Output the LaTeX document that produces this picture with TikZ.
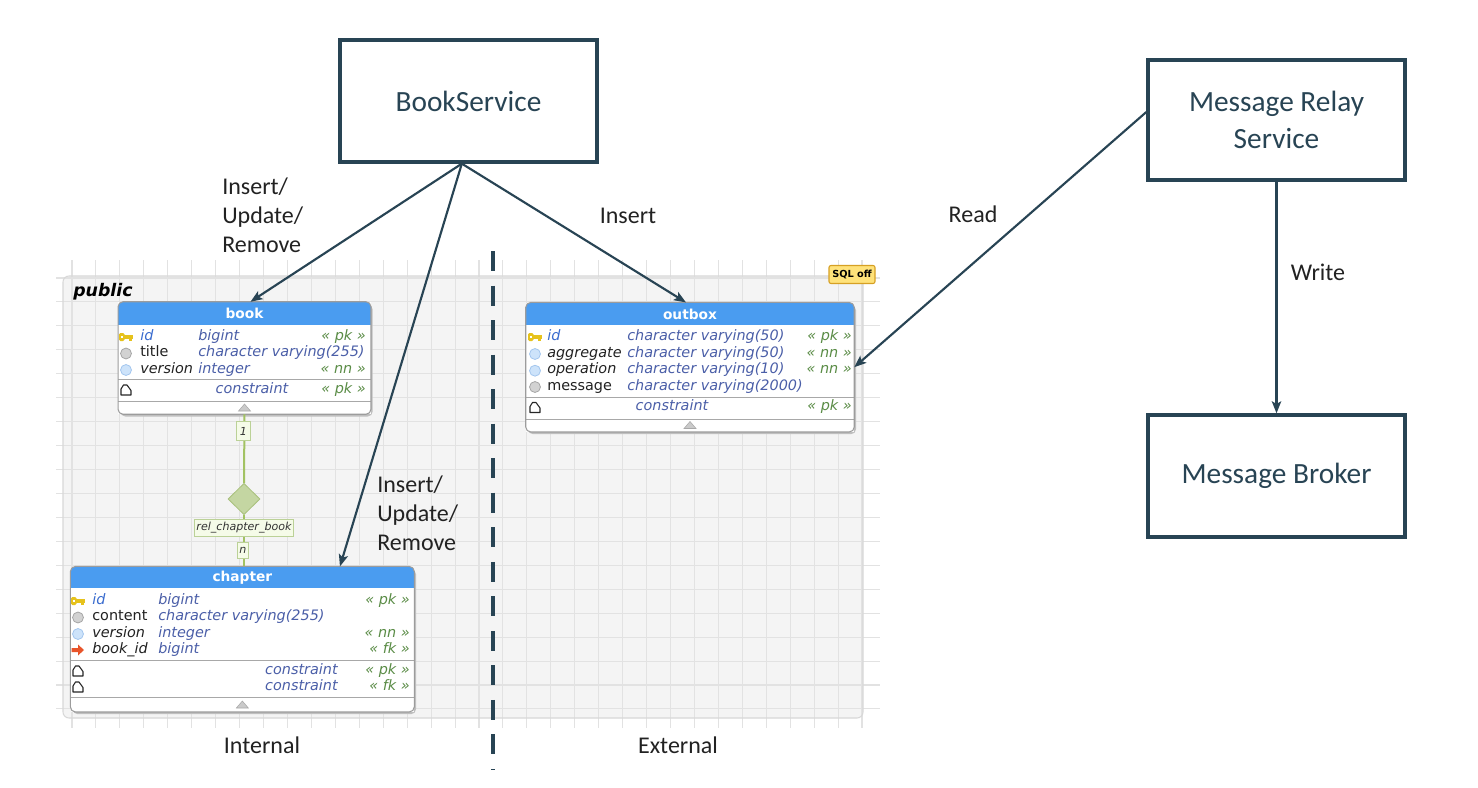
\documentclass[tikz,border=0pt]{standalone}
\usepackage{fontspec}
\setmainfont{Carlito}
\newfontfamily\tblfont{DejaVu Sans}
\usetikzlibrary{arrows.meta,shapes.geometric,calc}
\definecolor{slate}{HTML}{284454}
\definecolor{lblc}{HTML}{222222}
\definecolor{panelc}{HTML}{F4F4F4}
\definecolor{panelb}{HTML}{D8D8D8}
\definecolor{gridc}{HTML}{E2E2E2}
\definecolor{hdrc}{HTML}{4A9CF0}
\definecolor{tbb}{HTML}{9C9C9C}
\definecolor{sepc}{HTML}{A8A8A8}
\definecolor{nmcol}{HTML}{222222}
\definecolor{idcol}{HTML}{3A6CCF}
\definecolor{tycol}{HTML}{4B5FA8}
\definecolor{ancol}{HTML}{5A8C46}
\definecolor{keyc}{HTML}{E6C21C}
\definecolor{grayic}{HTML}{D2D2D2}
\definecolor{grayicb}{HTML}{A6A6A6}
\definecolor{blueic}{HTML}{CDE3FA}
\definecolor{blueicb}{HTML}{A3C6EE}
\definecolor{fkc}{HTML}{E8542A}
\definecolor{tric}{HTML}{CACACA}
\definecolor{relc}{HTML}{A2C262}
\definecolor{diaf}{HTML}{C4D6A2}
\definecolor{diab}{HTML}{A9C07C}
\definecolor{rlf}{HTML}{F5FBE8}
\definecolor{rlb}{HTML}{BBD197}
\definecolor{sqlf}{HTML}{FFE27A}
\definecolor{sqlb}{HTML}{D6A024}
\newcommand\tf{\tblfont\fontsize{10.8}{13}\selectfont}
\newcommand\mykey[2]{%
  \fill[keyc, rounded corners=1pt] (#1-7,#2-4) rectangle (#1-1.5,#2+4);
  \fill[white] (#1-5.2,#2-1.3) rectangle (#1-3.3,#2+1.3);
  \fill[keyc] (#1-2,#2-1.6) rectangle (#1+6.5,#2+1.6);
  \fill[keyc] (#1+3,#2+1) rectangle (#1+6,#2+4);}
\newcommand\mygray[2]{\draw[fill=grayic,draw=grayicb,line width=0.6pt] (#1,#2) circle[radius=4.1pt];}
\newcommand\myblue[2]{\draw[fill=blueic,draw=blueicb,line width=0.6pt] (#1,#2) circle[radius=4.1pt];}
\newcommand\myfk[2]{\fill[fkc] (#1-6.5,#2-2) -- (#1,#2-2) -- (#1,#2-5.5) -- (#1+6,#2) -- (#1,#2+5.5) -- (#1,#2+2) -- (#1-6.5,#2+2) -- cycle;}
\newcommand\mycons[2]{\draw[black!85,line width=0.8pt,line join=round] (#1-5,#2+5) -- (#1+5,#2+5) -- (#1+5,#2+0.5) -- (#1+1,#2-5) -- (#1-2.5,#2-5) -- (#1-5,#2-1) -- cycle;}
\newcommand\mytri[2]{\draw[fill=tric,draw=sepc,line width=0.4pt] (#1-6,#2+3.5) -- (#1+6,#2+3.5) -- (#1,#2-3.5) -- cycle;}
\tikzset{
  svc/.style={draw=slate, line width=2.5pt, fill=white, inner sep=0pt, text=slate,
    font=\fontsize{22}{27.75}\selectfont, align=center},
  conn/.style={draw=slate, line width=1.6pt, -{Stealth[length=9pt,width=7pt,inset=2pt]}},
  lbl/.style={inner sep=0pt, text=lblc, font=\fontsize{18}{21.75}\selectfont},
  tblnode/.style={fill=white, inner sep=0pt},
  hdrtxt/.style={inner sep=0pt, text=white, font=\tblfont\fontsize{10.3}{12}\selectfont\bfseries},
  tb/.style={inner sep=0pt, font=\tf},
  nm/.style={tb, anchor=mid west, text=nmcol},
  nmi/.style={tb, anchor=mid west, text=nmcol, font=\tf\itshape},
  nmk/.style={nmi, text=idcol},
  ty/.style={nmi, text=tycol},
  an/.style={tb, anchor=mid east, text=ancol, font=\tf\itshape},
  ct/.style={tb, anchor=mid, text=tycol, font=\tf\itshape},
  sepl/.style={draw=sepc, line width=0.6pt},
  shad/.style={fill=black!25, rounded corners=3.75pt},
  rellbl/.style={fill=rlf, draw=rlb, line width=0.5pt, inner sep=1.5pt, text=black!80,
    font=\tblfont\fontsize{8.3}{10}\selectfont\itshape},
  dashln/.style={draw=slate, line width=3pt, dash pattern=on 15pt off 10.9pt}
}
\begin{document}
\begin{tikzpicture}[x=0.75pt,y=-0.75pt]
\useasboundingbox (0,0) rectangle (1478,788);
\fill[white] (0,0) rectangle (1478,788);

% ---------- panel and grid
\fill[panelc, rounded corners=4.5pt] (63,276) rectangle (863,718);
\foreach \i in {0,...,33} \draw[gridc, line width=0.8pt] ({72+23.94*\i},260) -- ({72+23.94*\i},728);
\foreach \j in {0,...,18} \draw[gridc, line width=0.8pt] (56,{278+23.94*\j}) -- (880,{278+23.94*\j});
\draw[panelb, line width=0.8pt, rounded corners=4.5pt] (63,276) rectangle (863,718);

\node[font=\tblfont\fontsize{13}{15}\selectfont\bfseries\itshape, anchor=base west, inner sep=0pt] (public) at (73,296) {public};
\node[fill=sqlf, draw=sqlb, line width=0.8pt, rounded corners=1.5pt, inner sep=0pt,
  minimum width=34.5pt, minimum height=13.5pt, font=\tblfont\fontsize{7.3}{9}\selectfont\bfseries] (sql) at (852,274.5) {SQL off};

% ---------- book table
\fill[shad] (120.3,304.5) rectangle (372.7,416.5);
\node[tblnode, minimum width=189.3pt, minimum height=84pt] (book) at (244.5,358) {};
\begin{scope}
\clip[rounded corners=3.75pt] (book.north west) rectangle (book.south east);
\fill[hdrc] (118.3,302) rectangle (370.7,325);
\end{scope}
\node[hdrtxt] (book-t) at (244.5,313.5) {book};
\mykey{126}{337}
\node[nmk] (bk-n1) at (140,337) {id};
\node[ty] (bk-t1) at (198,337) {bigint};
\node[an] (bk-a1) at (366,337) {« pk »};
\mygray{126}{353.5}
\node[nm] (bk-n2) at (140,353.5) {title};
\node[ty] (bk-t2) at (198,353.5) {character varying(255)};
\myblue{126}{370}
\node[nmi] (bk-n3) at (140,370) {version};
\node[ty] (bk-t3) at (198,370) {integer};
\node[an] (bk-a3) at (366,370) {« nn »};
\draw[sepl] (118.3,379) -- (370.7,379);
\mycons{126}{390}
\node[ct] (bk-c1) at (252,390) {constraint};
\node[an] (bk-a4) at (366,390) {« pk »};
\draw[sepl] (118.3,401) -- (370.7,401);
\mytri{244.5}{407.5}
\draw[tbb, line width=0.8pt, rounded corners=3.75pt] (book.north west) rectangle (book.south east);

% ---------- chapter table
\fill[shad] (72.7,569.2) rectangle (416,714.2);
\node[tblnode, minimum width=257.5pt, minimum height=108.75pt] (chapter) at (242.35,639.2) {};
\begin{scope}
\clip[rounded corners=3.75pt] (chapter.north west) rectangle (chapter.south east);
\fill[hdrc] (70.7,566.7) rectangle (414,588);
\end{scope}
\node[hdrtxt] (ch-t) at (242.35,577.5) {chapter};
\mykey{78}{601}
\node[nmk] (ch-n1) at (92,601) {id};
\node[ty] (ch-t1) at (158,601) {bigint};
\node[an] (ch-a1) at (410,601) {« pk »};
\mygray{78}{617.5}
\node[nm] (ch-n2) at (92,617.5) {content};
\node[ty] (ch-t2) at (158,617.5) {character varying(255)};
\myblue{78}{634}
\node[nmi] (ch-n3) at (92,634) {version};
\node[ty] (ch-t3) at (158,634) {integer};
\node[an] (ch-a3) at (410,634) {« nn »};
\myfk{78}{650}
\node[nmi] (ch-n4) at (92,650) {book\_id};
\node[ty] (ch-t4) at (158,650) {bigint};
\node[an] (ch-a4) at (410,650) {« fk »};
\draw[sepl] (70.7,660) -- (414,660);
\mycons{78}{671}
\node[ct, anchor=mid east] (ch-c1) at (338,671) {constraint};
\node[an] (ch-a5) at (410,671) {« pk »};
\mycons{78}{687}
\node[ct, anchor=mid east] (ch-c2) at (338,687) {constraint};
\node[an] (ch-a6) at (410,687) {« fk »};
\draw[sepl] (70.7,697) -- (414,697);
\mytri{242.35}{704.5}
\draw[tbb, line width=0.8pt, rounded corners=3.75pt] (chapter.north west) rectangle (chapter.south east);

% ---------- outbox table
\fill[shad] (528,305.2) rectangle (856,434.2);
\node[tblnode, minimum width=246pt, minimum height=96.75pt] (outbox) at (690,367.2) {};
\begin{scope}
\clip[rounded corners=3.75pt] (outbox.north west) rectangle (outbox.south east);
\fill[hdrc] (526,302.7) rectangle (854,325);
\end{scope}
\node[hdrtxt] (ob-t) at (690,314) {outbox};
\mykey{535}{337}
\node[nmk] (ob-n1) at (547,337) {id};
\node[ty] (ob-t1) at (627,337) {character varying(50)};
\node[an] (ob-a1) at (852,337) {« pk »};
\myblue{535}{354}
\node[nmi] (ob-n2) at (547,354) {aggregate};
\node[ty] (ob-t2) at (627,354) {character varying(50)};
\node[an] (ob-a2) at (852,354) {« nn »};
\myblue{535}{370.7}
\node[nmi] (ob-n3) at (547,370.7) {operation};
\node[ty] (ob-t3) at (627,370.7) {character varying(10)};
\node[an] (ob-a3) at (852,370.7) {« nn »};
\mygray{535}{387}
\node[nm] (ob-n4) at (547,387) {message};
\node[ty] (ob-t4) at (627,387) {character varying(2000)};
\draw[sepl] (526,397) -- (854,397);
\mycons{535}{407.5}
\node[ct] (ob-c1) at (672,407.5) {constraint};
\node[an] (ob-a5) at (852,407.5) {« pk »};
\draw[sepl] (526,419) -- (854,419);
\mytri{690}{425}
\draw[tbb, line width=0.8pt, rounded corners=3.75pt] (outbox.north west) rectangle (outbox.south east);

% ---------- relationship
\node[diamond, fill=diaf, draw=diab, line width=0.6pt, inner sep=0pt,
  minimum width=24pt, minimum height=23.5pt] (rdia) at (244,499) {};
\draw[relc, line width=1.5pt] (book.south) -- (rdia.north);
\draw[relc, line width=1.5pt] (rdia.south) -- (rdia.south |- chapter.north);
\node[rellbl, minimum width=10.5pt, minimum height=14pt] (r1) at (243.5,431) {1};
\node[rellbl, minimum height=13pt] (rname) at (244,528) {rel\_chapter\_book};
\node[rellbl, minimum width=8.5pt, minimum height=12pt] (rn) at (243,550) {n};

% ---------- dashed divider
\coordinate (dtop) at (493,251);
\coordinate (dbot) at (493,770);
\draw[dashln] (dtop) -- (dbot);

% ---------- services
\node[svc, minimum width=192.75pt, minimum height=91.5pt] (bs) at (468.5,101) {BookService};
\node[svc, minimum width=192.75pt, minimum height=90pt] (relay) at (1276.5,120) {Message Relay\\Service};
\node[svc, minimum width=192.75pt, minimum height=91.5pt] (broker) at (1276.5,476) {Message Broker};

% ---------- connectors
\draw[conn] ([xshift=-5pt]bs.south) -- ([xshift=4.5pt]book.north);
\draw[conn] ([xshift=-5pt]bs.south) -- ([xshift=73.2pt]chapter.north);
\draw[conn] ([xshift=-5pt]bs.south) -- ([xshift=-3pt]outbox.north);
\draw[conn] ([yshift=6pt]relay.west) -- (outbox.east);
\draw[conn] (relay.south) -- (broker.north);

% ---------- labels
\node[lbl, align=left, anchor=west] (l-iur1) at (222,215.5) {Insert/\\Update/\\Remove};
\node[lbl, align=left, anchor=west] (l-iur2) at (377,513) {Insert/\\Update/\\Remove};
\node[lbl] (l-ins) at (628,216) {Insert};
\node[lbl] (l-read) at (973,214) {Read};
\node[lbl] (l-write) at (1318,272) {Write};
\node[lbl] (l-int) at (262,745) {Internal};
\node[lbl] (l-ext) at (678,745) {External};
\end{tikzpicture}
\end{document}
